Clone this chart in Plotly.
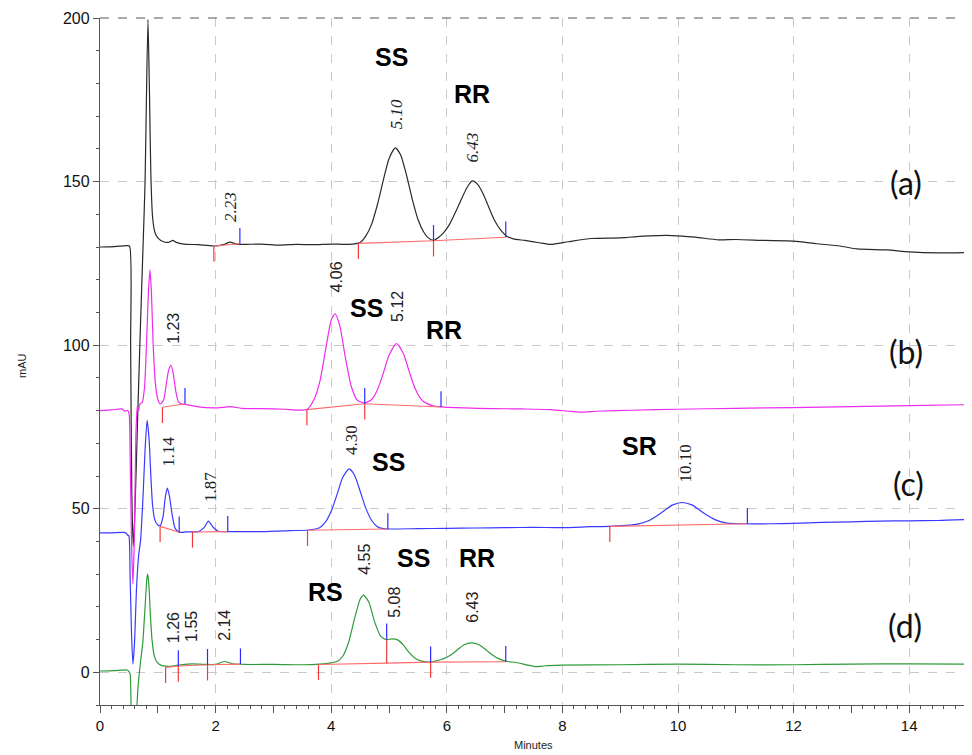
import plotly.graph_objects as go

# ------------------------------------------------------------------ data
# chromatogram traces: (minutes, mAU)
trace_a = [(0.00, 130.0), (0.25, 130.1), (0.45, 130.4), (0.51, 130.3), (0.53, 100.0), (0.55, 55.0),
           (0.575, 38.5), (0.60, 47.0), (0.65, 77.0), (0.70, 106.0), (0.75, 133.0), (0.78, 150.0),
           (0.80, 172.0), (0.83, 199.5), (0.855, 178.0), (0.88, 152.0), (0.91, 139.0), (0.95, 134.5),
           (1.00, 132.8), (1.10, 131.6), (1.20, 131.5), (1.26, 132.0), (1.32, 131.4), (1.45, 130.9),
           (1.70, 130.7), (1.97, 130.3), (2.15, 130.8), (2.25, 131.5), (2.35, 130.9), (2.50, 130.8),
           (2.80, 130.9), (3.10, 130.6), (3.40, 130.8), (3.70, 130.7), (4.00, 130.9), (4.30, 130.8),
           (4.50, 131.4), (4.60, 133.4), (4.70, 137.0), (4.80, 143.0), (4.90, 150.3), (5.00, 157.0),
           (5.11, 160.3), (5.20, 158.2), (5.30, 152.2), (5.40, 144.8), (5.50, 138.5), (5.60, 134.6),
           (5.68, 132.8), (5.77, 132.0), (5.86, 133.0), (5.95, 134.5), (6.05, 137.0), (6.15, 140.6),
           (6.25, 144.5), (6.35, 148.2), (6.44, 150.2), (6.53, 149.2), (6.63, 146.2), (6.73, 142.0),
           (6.83, 138.0), (6.93, 135.2), (7.03, 133.4), (7.15, 132.5), (7.35, 132.0), (7.60, 131.3),
           (7.80, 130.8), (8.10, 131.6), (8.50, 132.6), (9.00, 132.8), (9.50, 133.4), (9.90, 133.5),
           (10.30, 133.0), (10.70, 132.2), (11.00, 132.3), (11.50, 132.0), (12.00, 131.8), (12.40, 131.0),
           (12.80, 130.3), (13.10, 129.4), (13.60, 129.1), (14.00, 128.5), (14.50, 128.2), (15.00, 128.3)]

trace_b = [(0.00, 80.0), (0.20, 80.2), (0.38, 80.5), (0.43, 79.8), (0.47, 80.1), (0.50, 79.4),
           (0.52, 68.0), (0.545, 40.0), (0.57, 27.0), (0.595, 42.0), (0.62, 72.0), (0.645, 81.5),
           (0.665, 79.8), (0.69, 82.0), (0.73, 82.5), (0.77, 87.0), (0.81, 103.0), (0.84, 117.0),
           (0.865, 123.0), (0.89, 116.0), (0.92, 100.0), (0.96, 88.0), (1.00, 83.5), (1.04, 82.0),
           (1.10, 83.2), (1.15, 88.5), (1.19, 92.5), (1.23, 93.8), (1.27, 91.0), (1.31, 86.0),
           (1.36, 82.6), (1.42, 82.0), (1.50, 81.8), (1.70, 81.1), (2.00, 80.8), (2.25, 81.2),
           (2.45, 80.7), (2.80, 80.6), (3.20, 80.4), (3.58, 80.3), (3.70, 83.3), (3.80, 88.6),
           (3.90, 98.3), (4.00, 107.6), (4.066, 109.6), (4.15, 105.8), (4.25, 95.7), (4.35, 87.2),
           (4.45, 83.2), (4.58, 82.3), (4.70, 83.4), (4.80, 86.4), (4.90, 91.3), (5.00, 96.9),
           (5.13, 100.5), (5.25, 97.4), (5.35, 91.9), (5.45, 86.8), (5.55, 83.6), (5.65, 82.2),
           (5.78, 81.4), (5.90, 81.1), (6.30, 80.8), (6.80, 80.6), (7.30, 80.5), (7.80, 80.3),
           (8.10, 79.8), (8.30, 79.5), (8.60, 79.8), (9.20, 80.1), (10.0, 80.4), (11.0, 80.7),
           (12.0, 80.9), (13.0, 81.2), (14.0, 81.5), (15.0, 81.8)]

trace_c = [(0.00, 42.6), (0.20, 42.6), (0.44, 42.7), (0.48, 41.9), (0.50, 41.7), (0.52, 30.0),
           (0.545, 12.0), (0.57, 2.5), (0.60, 10.0), (0.63, 25.0), (0.67, 36.0), (0.70, 40.0),
           (0.74, 52.0), (0.78, 68.0), (0.815, 77.0), (0.85, 71.0), (0.88, 60.0), (0.91, 51.0),
           (0.95, 46.5), (1.00, 45.0), (1.04, 44.8), (1.09, 47.5), (1.13, 53.5), (1.165, 56.3),
           (1.20, 54.0), (1.25, 48.0), (1.30, 44.0), (1.37, 42.8), (1.50, 42.9), (1.70, 43.0),
           (1.80, 44.2), (1.875, 46.2), (1.95, 44.5), (2.05, 43.1), (2.30, 43.0), (2.80, 43.0),
           (3.30, 43.3), (3.60, 43.5), (3.80, 44.2), (3.90, 45.9), (4.00, 49.2), (4.10, 54.3),
           (4.20, 59.6), (4.31, 62.2), (4.40, 60.4), (4.50, 55.4), (4.60, 50.1), (4.70, 46.4),
           (4.80, 44.5), (4.90, 43.9), (5.00, 43.8), (5.50, 43.9), (6.00, 44.0), (6.50, 44.1),
           (7.00, 44.2), (7.50, 44.3), (8.00, 44.2), (8.50, 44.5), (8.80, 44.6), (9.10, 44.9),
           (9.30, 45.3), (9.50, 46.4), (9.70, 48.6), (9.90, 51.1), (10.07, 51.9), (10.25, 51.1),
           (10.45, 48.6), (10.65, 46.6), (10.85, 45.6), (11.10, 45.4), (11.60, 45.4), (12.00, 45.5),
           (12.50, 45.8), (13.00, 46.0), (13.50, 46.2), (14.00, 46.3), (14.50, 46.4), (15.00, 46.7)]

trace_d = [(0.00, 0.4), (0.25, 0.5), (0.47, 0.7), (0.50, 0.2), (0.52, -0.5), (0.54, -12.0),
           (0.57, -28.0), (0.60, -28.0), (0.63, -14.0), (0.66, -4.0), (0.70, 3.0), (0.74, 9.0),
           (0.78, 20.0), (0.81, 28.5), (0.825, 30.0), (0.845, 27.0), (0.87, 18.0), (0.90, 10.0),
           (0.94, 5.0), (0.99, 3.0), (1.05, 2.2), (1.20, 1.8), (1.40, 2.3), (1.60, 2.6), (1.80, 2.4),
           (2.00, 2.4), (2.15, 3.3), (2.30, 2.6), (2.50, 2.4), (3.00, 2.4), (3.50, 2.3), (3.80, 2.5),
           (4.00, 2.9), (4.10, 3.3), (4.20, 4.9), (4.30, 9.1), (4.40, 16.1), (4.50, 22.3), (4.56, 23.6),
           (4.65, 21.5), (4.75, 15.5), (4.85, 11.2), (4.95, 10.0), (5.05, 10.2), (5.15, 9.9),
           (5.25, 8.3), (5.35, 6.0), (5.45, 4.3), (5.55, 3.5), (5.65, 3.2), (5.72, 3.1), (5.80, 3.4),
           (5.90, 3.9), (6.00, 4.6), (6.10, 5.7), (6.20, 7.1), (6.30, 8.4), (6.43, 9.0), (6.55, 8.5),
           (6.65, 7.3), (6.75, 5.8), (6.85, 4.6), (6.95, 3.8), (7.05, 3.3), (7.20, 3.0), (7.40, 2.2),
           (7.55, 1.7), (7.70, 2.0), (8.00, 2.2), (9.00, 2.3), (10.0, 2.5), (11.0, 2.3), (12.0, 2.3),
           (13.0, 2.5), (14.0, 2.6), (15.0, 2.5)]

# integration baselines (t_start, y_start, t_end, y_end)
base_a = [(1.97, 130.3, 2.42, 131.0), (4.47, 131.1, 5.77, 131.9), (5.77, 131.9, 7.02, 133.0)]
base_b = [(1.08, 81.0, 1.47, 82.1), (3.58, 80.3, 4.58, 82.1), (4.58, 82.1, 5.90, 81.1)]
base_c = [(1.04, 44.6, 1.37, 42.8), (1.60, 42.9, 2.21, 43.0), (3.59, 43.4, 4.98, 43.8),
          (8.82, 44.6, 11.20, 45.4)]
base_d = [(1.135, 1.5, 1.355, 1.9), (1.355, 1.9, 1.86, 2.3), (1.86, 2.3, 2.43, 2.5),
          (3.78, 2.4, 4.96, 2.8), (4.96, 2.8, 5.72, 3.1), (5.72, 3.1, 7.02, 3.2)]
# peak start markers (red) and peak end markers (blue): (t, mAU)
start_marks = [(1.97, 130.3), (4.47, 131.1), (5.77, 131.9),
               (1.08, 81.0), (3.58, 80.3), (4.58, 82.1),
               (1.04, 44.6), (1.60, 42.9), (3.59, 43.4), (8.82, 44.6),
               (1.135, 1.5), (1.355, 1.9), (1.86, 2.3), (3.78, 2.4), (5.72, 3.1)]
end_marks = [(2.42, 131.0), (5.77, 131.9), (7.02, 133.0),
             (1.47, 82.1), (4.58, 82.1), (5.90, 81.1),
             (1.37, 42.8), (2.21, 43.0), (4.98, 43.8), (11.20, 45.4),
             (1.355, 1.9), (1.86, 2.3), (2.43, 2.5), (4.96, 10.1), (5.72, 3.1), (7.02, 3.2)]
drop_lines = [(4.96, 2.8, 10.1)]

# retention-time labels: text, t, mAU
rt_a = [("2.23", 2.26, 142.1), ("5.10", 5.13, 170.4), ("6.43", 6.44, 160.5)]
rt_b = [("1.23", 1.27, 105.1), ("4.06", 4.09, 120.8), ("5.12", 5.15, 111.9)]
rt_c = [("1.14", 1.17, 67.3), ("1.87", 1.90, 56.6), ("4.30", 4.35, 71.1), ("10.10", 10.13, 63.7)]
rt_d = [("1.26", 1.27, 13.6), ("1.55", 1.57, 14.1), ("2.14", 2.14, 14.4), ("4.55", 4.575, 34.5),
        ("5.08", 5.09, 21.3), ("6.43", 6.44, 19.8)]
# isomer labels
iso_labels = [("SS", 5.05, 188.0), ("RR", 6.43, 176.7), ("SS", 4.61, 111.5), ("RR", 5.95, 104.7),
              ("SS", 4.99, 64.3), ("SR", 9.33, 69.2), ("RS", 3.90, 24.5), ("SS", 5.43, 34.9),
              ("RR", 6.52, 34.9)]
# panel labels
panel_labels = [("(a)", 13.94, 149.6), ("(b)", 13.94, 98.0), ("(c)", 13.99, 57.8), ("(d)", 13.93, 14.4)]

x_major = [0, 2, 4, 6, 8, 10, 12, 14]
x_odd = [1, 3, 5, 7, 9, 11, 13, 15]
y_major = [0, 50, 100, 150, 200]

# ------------------------------------------------------------------ styles
TICK = 4.8  # marker tick length in mAU
COL = {"a": "#2a2a2a", "b": "#ee2cee", "c": "#3a3aff", "d": "#2f9a3a"}
RED_BASE = "#ff6a6a"
RED_TICK = "#f23a3a"
BLUE_TICK = "#2a2aff"
SANS = "Liberation Sans, Arial, sans-serif"
SERIF = "Liberation Serif, Times New Roman, serif"

fig = go.Figure()

for key, tr in (("a", trace_a), ("b", trace_b), ("c", trace_c), ("d", trace_d)):
    fig.add_trace(go.Scatter(
        x=[p[0] for p in tr], y=[p[1] for p in tr], mode="lines",
        line=dict(color=COL[key], width=1.2, shape="spline", smoothing=0.6),
        showlegend=False, hoverinfo="skip"))

# red baselines
bx, by = [], []
for segs in (base_a, base_b, base_c, base_d):
    for t0, y0, t1, y1 in segs:
        bx += [t0, t1, None]
        by += [y0, y1, None]
fig.add_trace(go.Scatter(x=bx, y=by, mode="lines", line=dict(color=RED_BASE, width=1.1),
                         showlegend=False, hoverinfo="skip"))
# red start ticks (downward) + drop lines
rx, ry = [], []
for t, v in start_marks:
    rx += [t, t, None]
    ry += [v, v - TICK, None]
for t, v0, v1 in drop_lines:
    rx += [t, t, None]
    ry += [v0, v1, None]
fig.add_trace(go.Scatter(x=rx, y=ry, mode="lines", line=dict(color=RED_TICK, width=1.2),
                         showlegend=False, hoverinfo="skip"))
# blue end ticks (upward)
ux, uy = [], []
for t, v in end_marks:
    ux += [t, t, None]
    uy += [v, v + TICK, None]
fig.add_trace(go.Scatter(x=ux, y=uy, mode="lines", line=dict(color=BLUE_TICK, width=1.2),
                         showlegend=False, hoverinfo="skip"))

# dummy trace for the secondary (odd-minute tick) axis
fig.add_trace(go.Scatter(x=[None], y=[None], xaxis="x2", showlegend=False, hoverinfo="skip"))

ann = []
for txt, t, v in rt_a:
    ann.append(dict(x=t, y=v, text="<i>" + txt + "</i>", textangle=-90, showarrow=False,
                    font=dict(family=SERIF, size=17, color="#222")))
for txt, t, v in rt_b + rt_d:
    ann.append(dict(x=t, y=v, text=txt, textangle=-90, showarrow=False,
                    font=dict(family=SANS, size=16, color="#222")))
for txt, t, v in rt_c:
    ann.append(dict(x=t, y=v, text=txt, textangle=-90, showarrow=False,
                    font=dict(family=SERIF, size=17, color="#222")))
for txt, t, v in iso_labels:
    ann.append(dict(x=t, y=v, text="<b>" + txt + "</b>", showarrow=False,
                    font=dict(family=SANS, size=25, color="#000")))
for txt, t, v in panel_labels:
    ann.append(dict(x=t, y=v, text=txt, showarrow=False,
                    font=dict(family="Lato, Open Sans, sans-serif", size=32, color="#111")))
for a in ann:
    a.update(xref="x", yref="y", xanchor="center", yanchor="middle")

ann.append(dict(text="Minutes", xref="paper", yref="paper", x=0.5, y=-0.058, showarrow=False,
                xanchor="center", yanchor="middle", font=dict(family=SANS, size=11, color="#222")))
ann.append(dict(text="mAU", xref="paper", yref="paper", x=-0.09, y=0.495, showarrow=False,
                textangle=-90, xanchor="center", yanchor="middle",
                font=dict(family=SANS, size=11, color="#222")))

AX = "#555555"
# the page body adds an 8 px margin, so the figure is sized to fill the rest of the window
fig.update_layout(
    width=964, height=747,
    margin=dict(l=92, r=5, t=10, b=50),
    paper_bgcolor="white", plot_bgcolor="white",
    annotations=ann,
    xaxis=dict(range=[0, 15], tickmode="array", tickvals=x_major,
               ticktext=[str(v) for v in x_major],
               ticks="outside", ticklen=7, tickwidth=1, tickcolor=AX,
               showline=True, linecolor=AX, linewidth=1.3,
               showgrid=True, gridcolor="#c9c9c9", griddash="dash", gridwidth=1,
               zeroline=False, automargin=False,
               tickfont=dict(family=SANS, size=15, color="#111"),
               minor=dict(tick0=0, dtick=0.2, ticks="outside", ticklen=3, tickcolor=AX,
                          showgrid=False)),
    xaxis2=dict(range=[0, 15], overlaying="x", matches="x", anchor="y", side="bottom",
                tickmode="array", tickvals=x_odd, ticks="outside", ticklen=7, tickcolor=AX,
                showticklabels=False, showgrid=False, showline=False, zeroline=False,
                automargin=False),
    yaxis=dict(range=[-10, 200], tickmode="array", tickvals=y_major,
               ticks="outside", ticklen=6, tickwidth=1, tickcolor=AX,
               showline=True, linecolor=AX, linewidth=1.3,
               showgrid=True, gridcolor="#c9c9c9", griddash="dash", gridwidth=1,
               zeroline=False, automargin=False,
               tickfont=dict(family=SANS, size=16, color="#111"),
               minor=dict(tick0=0, dtick=10, ticks="outside", ticklen=3, tickcolor=AX,
                          showgrid=False)),
    shapes=[
        dict(type="line", xref="paper", yref="paper", x0=1, x1=1, y0=0, y1=1,
             line=dict(color="#777777", width=1.3)),
        dict(type="line", xref="paper", yref="paper", x0=0, x1=1, y0=1, y1=1,
             line=dict(color="#555555", width=1, dash="dash")),
    ],
)

fig.write_html("out.html")
